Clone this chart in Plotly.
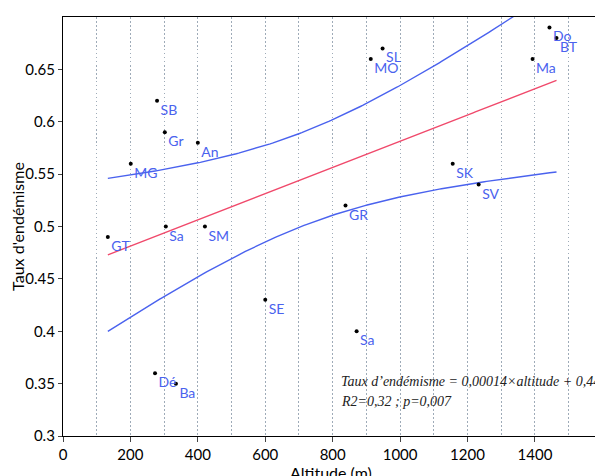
import numpy as np
import plotly.graph_objects as go

labels = ["GT", "MG", "SB", "Gr", "An", "Sa", "SM", "SE", "Dé", "Ba",
          "Sa", "GR", "MO", "SL", "SK", "SV", "Ma", "Do", "BT"]
altitude = [133, 201, 279, 302, 400, 305, 421, 600, 273, 335,
            871, 838, 913, 948, 1156, 1233, 1393, 1443, 1464]
endemisme = [0.49, 0.56, 0.62, 0.59, 0.58, 0.50, 0.50, 0.43, 0.36, 0.35,
             0.40, 0.52, 0.66, 0.67, 0.56, 0.54, 0.66, 0.69, 0.68]
x_ticks = [0, 200, 400, 600, 800, 1000, 1200, 1400]
y_ticks = [0.3, 0.35, 0.4, 0.45, 0.5, 0.55, 0.6, 0.65]
t_95 = 2.110  # Student t, 17 degrees of freedom

x = np.array(altitude, dtype=float)
y = np.array(endemisme, dtype=float)
n = len(x)
slope, intercept = np.polyfit(x, y, 1)
xs = np.linspace(x.min(), x.max(), 200)
fit = slope * xs + intercept
resid = y - (slope * x + intercept)
s = np.sqrt((resid ** 2).sum() / (n - 2))
sxx = ((x - x.mean()) ** 2).sum()
half = t_95 * s * np.sqrt(1 / n + (xs - x.mean()) ** 2 / sxx)

blue = "#4a62ee"
red = "#f0496b"
grid = "#9eabb8"
font = "Lato"

fig = go.Figure()
fig.add_trace(go.Scatter(x=xs, y=fit + half, mode="lines", line=dict(color=blue, width=1.4),
                         yaxis="y2", hoverinfo="skip"))
fig.add_trace(go.Scatter(x=xs, y=fit - half, mode="lines", line=dict(color=blue, width=1.4),
                         yaxis="y2", hoverinfo="skip"))
fig.add_trace(go.Scatter(x=xs, y=fit, mode="lines", line=dict(color=red, width=1.4),
                         yaxis="y2", hoverinfo="skip"))
fig.add_trace(go.Scatter(x=altitude, y=endemisme, mode="markers+text", text=labels,
                         textposition="bottom right",
                         textfont=dict(color=blue, size=14, family=font),
                         marker=dict(color="black", size=4), yaxis="y2"))

fig.add_annotation(x=818, y=0.3525, xref="x", yref="y2", xanchor="left", yanchor="middle",
                   text="<i>Taux d\u2019endémisme = 0,00014×altitude + 0,44</i>", showarrow=False,
                   font=dict(family="Liberation Serif", size=14, color="#222"))
fig.add_annotation(x=818, y=0.3325, xref="x", yref="y2", xanchor="left", yanchor="middle",
                   text="<i>R2=0,32 ; p=0,007</i>", showarrow=False,
                   font=dict(family="Liberation Serif", size=14, color="#222"))
fig.add_annotation(x=0.5, y=0, xref="paper", yref="paper", xanchor="center", yanchor="top",
                   yshift=-25, text="Altitude (m)", showarrow=False,
                   font=dict(family=font, size=16, color="black"))

fig.update_layout(
    width=595, height=468,
    margin=dict(l=55, r=4, t=9, b=40),
    paper_bgcolor="white", plot_bgcolor="white",
    showlegend=False,
    font=dict(family=font, size=14, color="black"),
    xaxis=dict(range=[0, 1590], tickvals=x_ticks, ticks="outside", ticklen=5,
               automargin=False,
               showline=True, linecolor="black", linewidth=1.3, mirror=True,
               showgrid=True, gridcolor=grid, griddash="1.5px,2.5px", gridwidth=1.2,
               minor=dict(dtick=100, showgrid=True, gridcolor=grid, griddash="1.5px,2.5px",
                          gridwidth=1.2),
               zeroline=False,
               tickfont=dict(size=15)),
    yaxis=dict(range=[0.3, 0.7], dtick=0.1, tick0=0.3, showticklabels=False, ticks="",
               automargin=False,
               showgrid=True, gridcolor=grid, griddash="1.5px,2.5px", gridwidth=1.2,
               showline=True, linecolor="black", linewidth=1.3, mirror=True, zeroline=False),
    yaxis2=dict(range=[0.3, 0.7], overlaying="y", side="left", tickvals=y_ticks,
                ticktext=[f"{v:g}" for v in y_ticks], ticks="outside", ticklen=4,
                automargin=False,
                showgrid=False, zeroline=False, showline=True, linecolor="black", linewidth=1.3,
                title=dict(text="Taux d'endémisme", font=dict(size=16), standoff=2),
                tickfont=dict(size=15)),
)

fig.write_html("out.html")
